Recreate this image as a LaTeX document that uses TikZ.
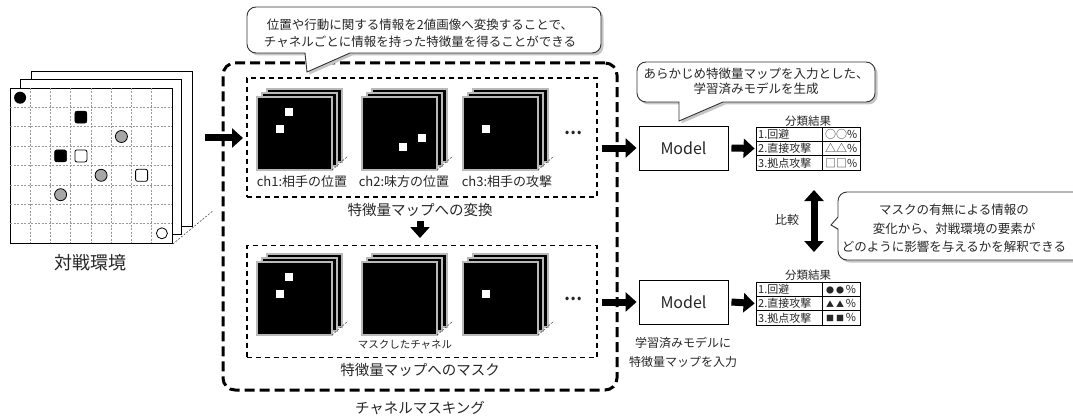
\documentclass[tikz,border=0pt]{standalone}
\usepackage{fontspec}
\setmainfont{Noto Sans CJK JP}
\usetikzlibrary{arrows.meta}
\newcommand{\fsz}[2]{\fontsize{#1}{#2}\selectfont}
\newcommand{\smsym}[1]{{\fontsize{8}{9}\selectfont #1}}
\tikzset{
  txt/.style={text=black!85, inner sep=0pt},
  bigarrow/.style={line width=7pt, -{Triangle[length=11pt,width=19pt]}},
  dblarrow/.style={line width=7pt, {Triangle[length=11pt,width=19pt]}-{Triangle[length=11pt,width=19pt]}},
  innerbox/.style={draw, line width=1.1pt, dash pattern=on 5pt off 4pt, inner sep=0pt},
  outerbox/.style={draw, line width=3pt, dash pattern=on 10pt off 5pt, rounded corners=12pt, inner sep=0pt},
  maplayer/.style={fill=black, draw=gray!55, line width=1.2pt},
  mapdiag/.style={draw=black!70, line width=0.6pt, dash pattern=on 2pt off 1.5pt},
  envlayer/.style={draw=black, fill=white, line width=0.9pt},
  griddash/.style={draw=gray!80, line width=0.6pt, dash pattern=on 2pt off 1.5pt},
  modelbox/.style={draw, line width=0.9pt, minimum width=89pt, minimum height=44pt, inner sep=0pt, font=\fsz{16}{18}, text=black!85},
  tabbox/.style={draw, line width=0.8pt, minimum width=104pt, minimum height=43pt, inner sep=0pt},
  tabtxt/.style={txt, font=\fsz{11}{13}, anchor=west},
  bubble/.style={draw=black!80, fill=white, line width=0.9pt},
  bshadow/.style={fill=gray!45},
}
\newcommand{\fmapstack}[2]{%
  \foreach \d in {10,5,0} {
    \filldraw[maplayer] (#1+\d,#2-0.8*\d) rectangle ++(75,73);
  }
  \draw[mapdiag] (#1+75,#2+73) -- ++(16,-14);
}
\newcommand{\wsq}[2]{\fill[white] (#1-4,#2-4) rectangle (#1+4,#2+4);}
\begin{document}
\begin{tikzpicture}[x=1pt,y=-1pt]
\clip (0,0) rectangle (1073,417);
\useasboundingbox (0,0) rectangle (1073,417);

% ---------------- environment board ----------------
\draw[envlayer] (31,71) rectangle (192,226);
\draw[envlayer] (20,79) rectangle (181,234);
\node[envlayer, minimum width=162pt, minimum height=155pt, anchor=north west, inner sep=0pt] (env) at (10,88) {};
\foreach \i in {1,...,7} {
  \draw[griddash] (10+\i*20.25,88) -- (10+\i*20.25,243);
  \draw[griddash] (10,88+\i*19.375) -- (172,88+\i*19.375);
}
\draw[mapdiag] (env.south east) -- ++(40,-33);
% pieces
\fill[black] (20.1,97.7) circle[radius=6pt];
\filldraw[draw=black, fill=black, rounded corners=2pt] (74.9,111.1) rectangle (86.9,123.1);
\filldraw[draw=black, fill=gray!70, line width=0.8pt] (121.4,136.5) circle[radius=6pt];
\filldraw[draw=black, fill=black, rounded corners=2pt] (54.6,149.9) rectangle (66.6,161.9);
\filldraw[draw=black, fill=white, rounded corners=2pt, line width=0.8pt] (74.9,149.9) rectangle (86.9,161.9);
\filldraw[draw=black, fill=gray!70, line width=0.8pt] (101.1,175.3) circle[radius=6pt];
\filldraw[draw=black, fill=white, rounded corners=2pt, line width=0.8pt] (135.6,169.3) rectangle (147.6,181.3);
\filldraw[draw=black, fill=gray!70, line width=0.8pt] (60.6,194.7) circle[radius=6pt];
\filldraw[draw=black, fill=white, line width=0.8pt] (161.9,233.3) circle[radius=5.5pt];
\node[txt, font=\fsz{18}{20}] (envlbl) at (90,263) {対戦環境};

% ---------------- channel masking block ----------------
\node[outerbox, minimum width=394pt, minimum height=327pt] (outer) at (420,226.5) {};
\node[innerbox, minimum width=350pt, minimum height=119pt] (inner1) at (422,137.5) {};
\node[innerbox, minimum width=350pt, minimum height=112pt] (inner2) at (422,301.5) {};

% upper stacks
\fmapstack{257}{97}
\fmapstack{362}{97}
\fmapstack{463}{97}
\wsq{289}{112}\wsq{280}{129}
\wsq{422}{138}\wsq{403}{147}
\wsq{486}{129}
\node[txt, font=\fsz{16}{18}\bfseries] (dots1) at (573,133) {…};
\node[txt, font=\fsz{13}{15}] (ch1) at (302,182) {ch1:相手の位置};
\node[txt, font=\fsz{13}{15}] (ch2) at (404,182) {ch2:味方の位置};
\node[txt, font=\fsz{13}{15}] (ch3) at (507,182) {ch3:相手の攻撃};
\node[txt, font=\fsz{14.5}{16}] (conv) at (420,210) {特徴量マップへの変換};

% lower stacks
\fmapstack{257}{262}
\fmapstack{362}{262}
\fmapstack{463}{262}
\wsq{289}{277}\wsq{280}{294}
\wsq{486}{294}
\node[txt, font=\fsz{16}{18}\bfseries] (dots2) at (573,299) {…};
\node[txt, font=\fsz{10.5}{12}] (masked) at (405,345) {マスクしたチャネル};
\node[txt, font=\fsz{14.5}{16}] (masklbl) at (420,370) {特徴量マップへのマスク};
\node[txt, font=\fsz{14.5}{16}] (cmlbl) at (420,408) {チャネルマスキング};

\coordinate (downA) at (420,221);
\coordinate (downB) at (420,238);
\draw[bigarrow] (downA) -- (downB);

% env -> block arrow
\coordinate (envout) at (205,138);
\coordinate (blockin) at (243,138);
\draw[bigarrow] (envout) -- (blockin);

% ---------------- speech bubble 1 ----------------
\def\bubA{(350,53) -- (307,72) -- (305,53) [rounded corners=9pt] -- (247,53) -- (247,7) -- (601,7) -- (601,53) [sharp corners] -- cycle}
\fill[bshadow, shift={(2.5,2.5)}] \bubA;
\filldraw[bubble] \bubA;
\node[txt, font=\fsz{12.5}{17}, align=center] (bubAtxt) at (420,33) {位置や行動に関する情報を2値画像へ変換することで、\\チャネルごとに情報を持った特徴量を得ることができる};

% ---------------- models ----------------
\node[modelbox] (model1) at (683.5,148) {Model};
\node[modelbox] (model2) at (683.5,302) {Model};
\draw[bigarrow] ([xshift=4pt]inner1.east |- model1.west) -- ([xshift=-2pt]model1.west);
\draw[bigarrow] ([xshift=4pt]inner2.east |- model2.west) -- ([xshift=-2pt]model2.west);
\node[txt, font=\fsz{12}{19}, align=center] (m2txt) at (683,352.5) {学習済みモデルに\\特徴量マップを入力};

% ---------------- speech bubble 2 ----------------
\def\bubB{(723,102) -- (679,121) -- (679,102) [rounded corners=9pt] -- (637,102) -- (637,62) -- (875,62) -- (875,102) [sharp corners] -- cycle}
\fill[bshadow, shift={(2.5,2.5)}] \bubB;
\filldraw[bubble] \bubB;
\node[txt, font=\fsz{12.5}{15}, align=center] (bubBtxt) at (756,81) {あらかじめ特徴量マップを入力とした、\\学習済みモデルを生成};

% ---------------- tables ----------------
\node[tabbox] (tab1) at (808,148.5) {};
\draw[line width=0.8pt] (756,141.3) -- (860,141.3) (756,155.7) -- (860,155.7) (822,127) -- (822,170);
\node[txt, font=\fsz{11.5}{13}] (tab1t) at (808,121) {分類結果};
\node[tabtxt] at (758,134.2) {1.回避};
\node[tabtxt] at (758,148.5) {2.直接攻撃};
\node[tabtxt] at (758,162.9) {3.拠点攻撃};
\node[tabtxt] at (825,134.2) {○○\%};
\node[tabtxt] at (825,148.5) {△△\%};
\node[tabtxt] at (825,162.9) {□□\%};

\node[tabbox] (tab2) at (808,303.5) {};
\draw[line width=0.8pt] (756,296.3) -- (860,296.3) (756,310.7) -- (860,310.7) (822,282) -- (822,325);
\node[txt, font=\fsz{11.5}{13}] (tab2t) at (808,275) {分類結果};
\node[tabtxt] at (758,289.2) {1.回避};
\node[tabtxt] at (758,303.5) {2.直接攻撃};
\node[tabtxt] at (758,317.9) {3.拠点攻撃};
\node[tabtxt] at (826,289.2) {\smsym{●}\,\smsym{●}\,\%};
\node[tabtxt] at (826,303.5) {\smsym{▲}\,\smsym{▲}\,\%};
\node[tabtxt] at (826,317.9) {\smsym{■}\,\smsym{■}\,\%};

\draw[bigarrow] ([xshift=3pt]model1.east) -- ([xshift=-1pt]tab1.west);
\draw[bigarrow] ([xshift=3pt]model2.east) -- ([xshift=-1pt]tab2.west);

% compare arrow
\coordinate (cmpTop) at (814,190);
\coordinate (cmpBot) at (814,252);
\draw[dblarrow] (cmpTop) -- (cmpBot);
\node[txt, font=\fsz{12}{14}] (cmp) at (787,220) {比較};

% ---------------- speech bubble 3 ----------------
\def\bubC{(838,229) [rounded corners=9pt] -- (838,260) -- (1090,260) -- (1090,192) -- (838,192) [sharp corners] -- (838,217) -- (831,225) -- cycle}
\fill[bshadow, shift={(2.5,2.5)}] \bubC;
\filldraw[bubble] \bubC;
\node[txt, font=\fsz{12.5}{18.5}, align=center] (bubCtxt) at (954,228.5) {マスクの有無による情報の\\変化から、対戦環境の要素が\\どのように影響を与えるかを解釈できる};
\end{tikzpicture}
\end{document}
